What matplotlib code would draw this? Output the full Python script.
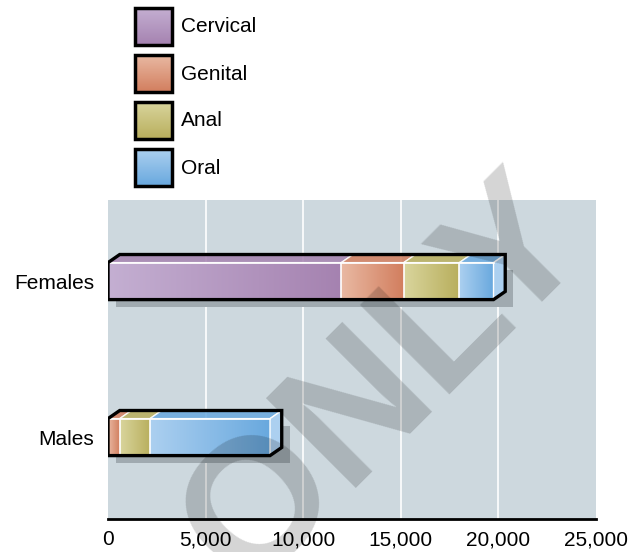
import matplotlib.pyplot as plt
import numpy as np
from matplotlib.colors import LinearSegmentedColormap
from matplotlib.patches import Polygon, Rectangle

plt.rcParams['font.family'] = ['Liberation Sans', 'DejaVu Sans']

# data
groups = ['Females', 'Males']
sites = ['Cervical', 'Genital', 'Anal', 'Oral']
values = {
    'Females': [11950, 3200, 2850, 1750],
    'Males': [0, 600, 1550, 6150],
}
light = ['#c4afd2', '#e9b9a3', '#d9d59d', '#acd0f0']
dark = ['#a582b0', '#d27e5e', '#b8ae5c', '#68a8de']
xticks = [0, 5000, 10000, 15000, 20000, 25000]

bg = '#cdd8de'
bar_h = 0.237
dx, dy = 600, 0.052      # 3d depth
sx, sy = 420, 0.045      # drop shadow offset

fig = plt.figure(figsize=(6.4, 5.52), dpi=100)
ax = fig.add_axes([108 / 640, 33 / 552, 488 / 640, 319 / 552])
ax.set_facecolor(bg)
ax.set_xlim(0, 25000)
ax.set_ylim(1.525, -0.52)
for x in xticks[1:-1]:
    ax.axvline(x, color='white', lw=1.2, zorder=1)

grad = np.linspace(0, 1, 256).reshape(1, -1)

for i, g in enumerate(groups):
    vals = values[g]
    total = sum(vals)
    y0, y1 = i - bar_h / 2, i + bar_h / 2
    # shadow
    ax.add_patch(Rectangle((sx, y0 + sy), total + dx, bar_h, color='#a0aab0',
                           lw=0, zorder=2))
    left = 0
    for k, v in enumerate(vals):
        if v <= 0:
            continue
        cmap = LinearSegmentedColormap.from_list('c%d' % k, [light[k], dark[k]])
        ax.imshow(grad, cmap=cmap, extent=[left, left + v, y1, y0],
                  aspect='auto', zorder=3)
        # top face
        top = Polygon([(left, y0), (left + dx, y0 - dy), (left + v + dx, y0 - dy),
                       (left + v, y0)], closed=True,
                      facecolor=dark[k], edgecolor='white', lw=1, alpha=0.85,
                      zorder=3)
        ax.add_patch(top)
        ax.plot([left, left], [y0, y1], color='white', lw=1.2, zorder=4)
        last = k
        left += v
    # right end face
    ax.add_patch(Polygon([(total, y0), (total + dx, y0 - dy), (total + dx, y1 - dy),
                          (total, y1)], closed=True, facecolor=light[last],
                         edgecolor='white', lw=1, zorder=3))
    ax.plot([0, total], [y0, y0], color='white', lw=1.2, zorder=4)
    # outline
    ax.add_patch(Polygon([(0, y1), (total, y1), (total + dx, y1 - dy),
                          (total + dx, y0 - dy), (dx, y0 - dy), (0, y0)],
                         closed=True, fill=False, edgecolor='black', lw=2.4,
                         zorder=5, joinstyle='miter'))

ax.set_yticks(range(len(groups)))
ax.set_yticklabels(groups, fontsize=15)
ax.set_xticks(xticks)
ax.set_xticklabels(['{:,}'.format(x) for x in xticks], fontsize=15)
ax.tick_params(length=0, pad=8)
ax.tick_params(axis='y', pad=10)
for s in ['top', 'right', 'left']:
    ax.spines[s].set_visible(False)
ax.spines['bottom'].set_linewidth(2)
ax.spines['bottom'].set_color('black')
ax.spines['bottom'].set_zorder(6)

# legend, drawn in pixel space
lax = fig.add_axes([0, 0, 1, 1], zorder=10)
lax.set_xlim(0, 640)
lax.set_ylim(552, 0)
lax.axis('off')
for k, s in enumerate(sites):
    ty = 8 + k * 47
    cmap = LinearSegmentedColormap.from_list('l%d' % k, [light[k], dark[k]])
    lax.imshow(grad.T, cmap=cmap, extent=[135, 172, ty + 37, ty], aspect='auto')
    lax.add_patch(Rectangle((135, ty), 37, 37, fill=False, edgecolor='black', lw=2.5))
    lax.text(181, ty + 19, s, fontsize=15, va='center', ha='left')

# watermark
lax.text(386, 384, 'ONLY', fontsize=132, fontweight='bold', color='black',
         alpha=0.17, rotation=45, ha='center', va='center')
lax.set_xlim(0, 640)
lax.set_ylim(552, 0)

fig.savefig('out.png', dpi=100)
